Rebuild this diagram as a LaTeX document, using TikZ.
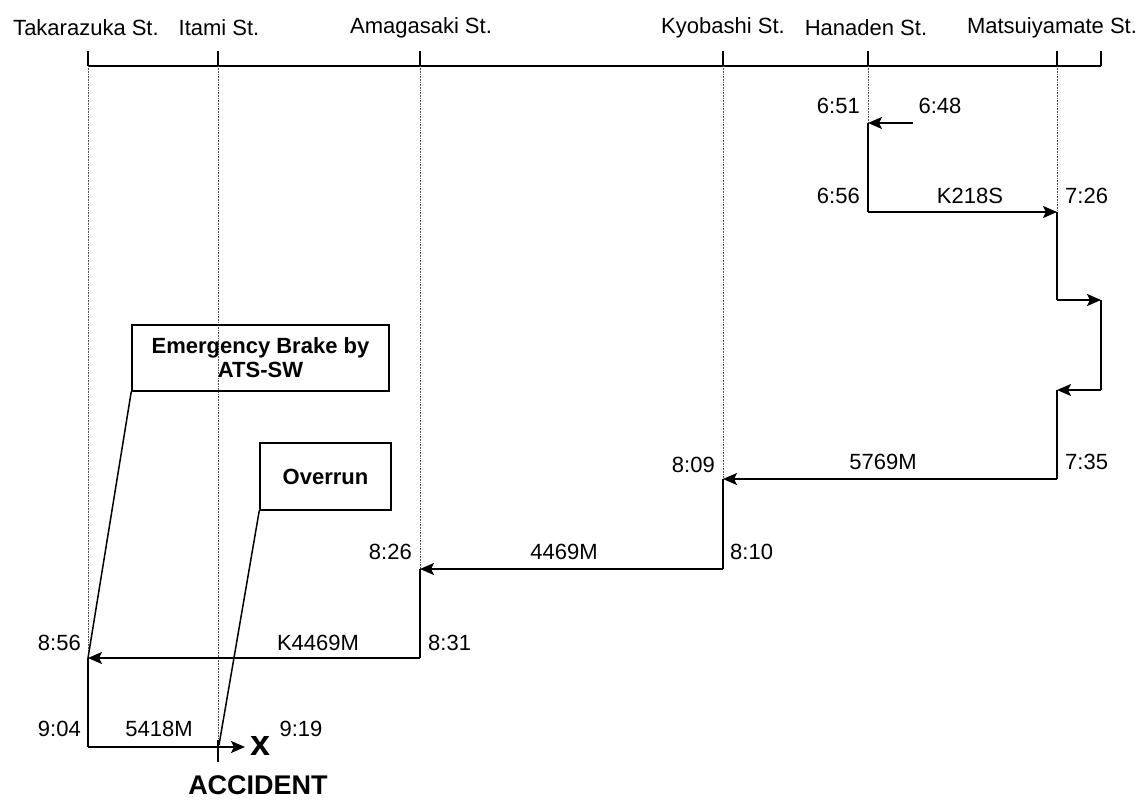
\documentclass[tikz,border=0pt]{standalone}
\usepackage{fontspec}
\setmainfont{Liberation Sans}
\usetikzlibrary{arrows.meta}
\tikzset{
  lbl/.style={inner sep=0pt, font=\fontsize{22}{24}\selectfont},
  stn/.style={inner sep=0pt, font=\fontsize{22}{24}\selectfont},
  guide/.style={densely dotted, line width=0.6pt, black!70},
  track/.style={line width=1.9pt},
  run/.style={line width=1.9pt, -{Stealth[length=14pt,width=12pt,inset=3pt]}},
  axis/.style={line width=1.4pt},
  callbox/.style={draw, line width=1.5pt, align=center, inner sep=0pt, font=\fontsize{22}{24}\selectfont\bfseries},
  callout/.style={line width=1.5pt}
}
\begin{document}
\begin{tikzpicture}[x=1pt,y=-1pt]
\useasboundingbox (0,0) rectangle (1144,800);
% station ticks on axis
\coordinate (sT) at (88,66);
\coordinate (sI) at (218,66);
\coordinate (sA) at (420,66);
\coordinate (sK) at (723,66);
\coordinate (sH) at (868,66);
\coordinate (sM) at (1057,66);
\coordinate (sE) at (1101,66);
\draw[axis] (sT) -- (sE);
\foreach \s in {sT,sI,sA,sK,sH,sM,sE} \draw[axis] (\s) -- ++(0,-15);
% station names
\node[stn] (nT) at (86,28) {Takarazuka St.};
\node[stn] (nI) at (219,28) {Itami St.};
\node[stn] (nA) at (421,28) {Amagasaki St.};
\node[stn] (nK) at (723,28) {Kyobashi St.};
\node[stn] (nH) at (866,28) {Hanaden St.};
\node[stn] (nM) at (1052,28) {Matsuiyamate St.};
% path points
\coordinate (t0) at (913,123);
\coordinate (h1) at (868,123);
\coordinate (h2) at (868,212);
\coordinate (m1) at (1057,212);
\coordinate (m2) at (1057,300);
\coordinate (e1) at (1101,300);
\coordinate (e2) at (1101,390);
\coordinate (m3) at (1057,390);
\coordinate (m4) at (1057,479);
\coordinate (k1) at (723,479);
\coordinate (k2) at (723,569);
\coordinate (a1) at (420,569);
\coordinate (a2) at (420,658);
\coordinate (tk1) at (88,658);
\coordinate (tk2) at (88,747);
\coordinate (ac) at (245,747);
\coordinate (iS) at (218,740);
\coordinate (iE) at (218,762);
\coordinate (ovEnd) at (219,745);
% guide lines
\draw[guide] (sT) -- (tk1);
\draw[guide] (sI) -- (iS);
\draw[guide] (sA) -- (a1);
\draw[guide] (sK) -- (k1);
\draw[guide] (sH) -- (h1);
\draw[guide] (sM) -- (m1);
% runs
\draw[run] (t0) -- (h1);
\draw[track] (h1) -- (h2);
\draw[run] (h2) -- (m1);
\draw[track] (m1) -- (m2);
\draw[run] (m2) -- (e1);
\draw[track] (e1) -- (e2);
\draw[run] (e2) -- (m3);
\draw[track] (m3) -- (m4);
\draw[run] (m4) -- (k1);
\draw[track] (k1) -- (k2);
\draw[run] (k2) -- (a1);
\draw[track] (a1) -- (a2);
\draw[run] (a2) -- (tk1);
\draw[track] (tk1) -- (tk2);
\draw[run] (tk2) -- (ac);
\draw[line width=1.2pt] (iS) -- (iE);
% labels
\node[lbl, anchor=east] (l651) at (860,106) {6:51};
\node[lbl] (l648) at (940,106) {6:48};
\node[lbl, anchor=east] (l656) at (860,196) {6:56};
\node[lbl] (lK218) at (970,196) {K218S};
\node[lbl, anchor=west] (l726) at (1065,196) {7:26};
\node[lbl, anchor=west] (l735) at (1065,462) {7:35};
\node[lbl] (l5769) at (883,462) {5769M};
\node[lbl, anchor=east] (l809) at (715,465) {8:09};
\node[lbl, anchor=west] (l810) at (730,552) {8:10};
\node[lbl] (l4469) at (564,552) {4469M};
\node[lbl, anchor=east] (l826) at (412,552) {8:26};
\node[lbl, anchor=west] (l831) at (428,643) {8:31};
\node[lbl] (lK4469) at (318,643) {K4469M};
\node[lbl, anchor=east] (l856) at (81,643) {8:56};
\node[lbl, anchor=east] (l904) at (81,729) {9:04};
\node[lbl] (l5418) at (159,729) {5418M};
\node[lbl] (l919) at (301,729) {9:19};
\node[inner sep=0pt, font=\fontsize{36}{36}\selectfont\bfseries] (xmark) at (261,746) {x};
\node[inner sep=0pt, font=\fontsize{27}{30}\selectfont\bfseries] (accident) at (258,785) {ACCIDENT};
% callout boxes
\node[callbox, minimum width=257pt, minimum height=66pt] (emg) at (260.5,358) {Emergency Brake by\\ATS-SW};
\node[callbox, minimum width=131pt, minimum height=67pt] (ovr) at (325.5,476.5) {Overrun};
\draw[callout] (emg.south west) -- (tk1);
\draw[callout] (ovr.south west) -- (ovEnd);
\end{tikzpicture}
\end{document}
